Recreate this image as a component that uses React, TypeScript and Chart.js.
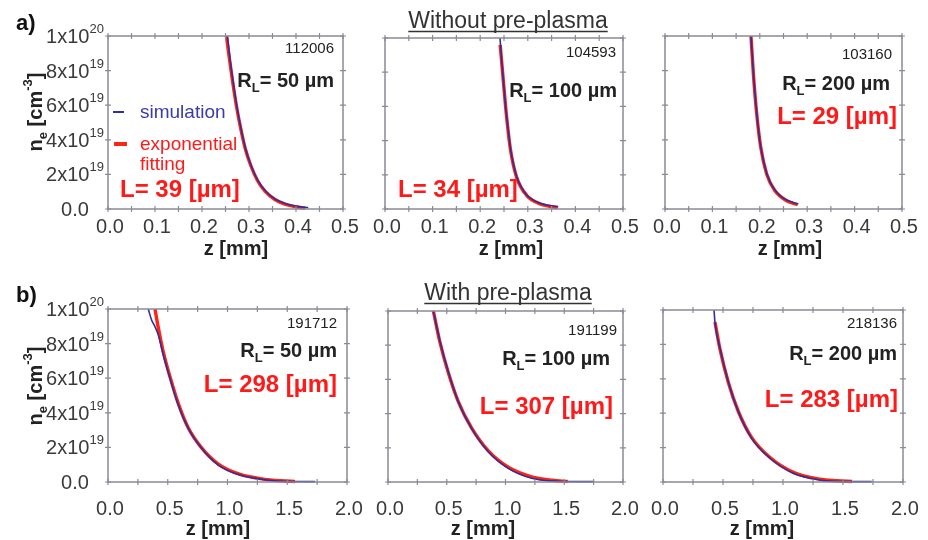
import React, { useEffect, useRef } from "react";
import { Chart, registerables } from "chart.js";
Chart.register(...registerables);

const W = 928;
const H = 540;
const FONT = '"Liberation Sans", Arial, Helvetica, sans-serif';
const BLUE = "#2f2f9c";
const RED = "#ff2414";
const TXT_RED = "#ff1a1a";
const TXT = "#222222";
const TICK_TXT = "#3a3a3a";
const AXIS = "#8a8a98";

// ---- data (z in mm, n_e in units of 1e19 cm^-3) ----
const a1SimZ = [0.254, 0.26, 0.267, 0.275, 0.284, 0.294, 0.306, 0.32, 0.337, 0.357, 0.38, 0.402, 0.426];
const a1SimN = [10.0, 8.6, 7.2, 5.8, 4.5, 3.35, 2.4, 1.6, 0.98, 0.55, 0.29, 0.15, 0.08];
const a1FitZ = [0.252, 0.258, 0.265, 0.273, 0.282, 0.292, 0.304, 0.318, 0.335, 0.355, 0.378, 0.4, 0.42];
const a1FitN = [10.0, 8.75, 7.4, 6.0, 4.7, 3.5, 2.5, 1.65, 1.0, 0.55, 0.27, 0.13, 0.05];

const a2SimZ = [0.2416, 0.245, 0.2486, 0.252, 0.2556, 0.26, 0.264, 0.27, 0.2766, 0.286, 0.2976, 0.31, 0.3256, 0.345, 0.364];
const a2SimN = [10.0, 8.7, 7.54, 6.4, 5.4, 4.35, 3.45, 2.6, 1.89, 1.3, 0.82, 0.55, 0.33, 0.2, 0.14];
const a2FitZ = [0.242, 0.2486, 0.2556, 0.264, 0.2766, 0.2976, 0.3256, 0.345, 0.363];
const a2FitN = [9.6, 7.5, 5.35, 3.4, 1.85, 0.8, 0.3, 0.16, 0.08];

const a3SimZ = [0.1814, 0.184, 0.1865, 0.19, 0.1935, 0.1975, 0.2019, 0.208, 0.2145, 0.223, 0.232, 0.244, 0.2567, 0.27, 0.2812];
const a3SimN = [10.0, 8.9, 7.84, 6.6, 5.53, 4.5, 3.6, 2.75, 2.06, 1.5, 1.1, 0.75, 0.52, 0.38, 0.29];
const a3FitZ = [0.1814, 0.1865, 0.1935, 0.2019, 0.2145, 0.232, 0.2567, 0.28];
const a3FitN = [10.0, 7.8, 5.5, 3.58, 2.03, 1.05, 0.48, 0.25];

const b1SimZ = [0.337, 0.365, 0.393, 0.421, 0.463, 0.519, 0.588, 0.672, 0.784, 0.923, 1.105, 1.328, 1.495, 1.732];
const b1SimN = [10.0, 9.36, 8.98, 8.5, 7.34, 5.99, 4.45, 3.1, 1.95, 0.98, 0.4, 0.12, 0.03, 0.02];
const b1FitZ = [0.393, 0.42, 0.46, 0.52, 0.59, 0.67, 0.78, 0.92, 1.1, 1.3, 1.45, 1.565];
const b1FitN = [10.0, 8.95, 7.6, 6.05, 4.5, 3.15, 2.0, 1.05, 0.45, 0.17, 0.07, 0.03];

const b2SimZ = [0.386, 0.443, 0.513, 0.598, 0.712, 0.854, 1.024, 1.223, 1.449, 1.6, 1.747];
const b2SimN = [10.0, 8.2, 6.45, 4.7, 3.14, 1.77, 0.8, 0.22, 0.04, 0.02, 0.02];
const b2FitZ = [0.386, 0.443, 0.513, 0.598, 0.712, 0.854, 1.024, 1.223, 1.4, 1.53];
const b2FitN = [10.0, 8.15, 6.4, 4.7, 3.15, 1.82, 0.86, 0.3, 0.1, 0.03];

const b3SimZ = [0.425, 0.433, 0.475, 0.544, 0.628, 0.739, 0.892, 1.086, 1.308, 1.558, 1.739];
const b3SimN = [10.0, 9.3, 7.77, 5.83, 4.09, 2.54, 1.38, 0.51, 0.12, 0.02, 0.02];
const b3FitZ = [0.433, 0.475, 0.544, 0.628, 0.739, 0.892, 1.086, 1.308, 1.45, 1.575];
const b3FitN = [9.3, 7.72, 5.8, 4.1, 2.58, 1.42, 0.56, 0.16, 0.07, 0.03];

const runIds = ["112006", "104593", "103160", "191712", "191199", "218136"];
const laserRadii = ["50", "100", "200", "50", "100", "200"];
const scaleLengths = ["39", "34", "29", "298", "307", "283"];

const yTickValues = [0, 2, 4, 6, 8, 10];
const yTickMain = ["0.0", "2x10", "4x10", "6x10", "8x10", "1x10"];
const yTickExp = ["", "19", "19", "19", "19", "20"];
const xTicksA = [0, 0.1, 0.2, 0.3, 0.4, 0.5];
const xTickLabelsA = ["0.0", "0.1", "0.2", "0.3", "0.4", "0.5"];
const xTicksB = [0, 0.5, 1.0, 1.5, 2.0];
const xTickLabelsB = ["0.0", "0.5", "1.0", "1.5", "2.0"];

type Seg = { t: string; size: number; bold?: boolean; dy?: number; color?: string };

function segW(ctx: CanvasRenderingContext2D, segs: Seg[]) {
  let w = 0;
  for (const s of segs) {
    ctx.font = `${s.bold ? "bold " : ""}${s.size}px ${FONT}`;
    w += ctx.measureText(s.t).width;
  }
  return w;
}

function drawSegs(ctx: CanvasRenderingContext2D, segs: Seg[], x: number, y: number, align: "left" | "center" | "right", color: string) {
  ctx.textBaseline = "alphabetic";
  ctx.textAlign = "left";
  const w = segW(ctx, segs);
  let cx = align === "left" ? x : align === "center" ? x - w / 2 : x - w;
  for (const s of segs) {
    ctx.font = `${s.bold ? "bold " : ""}${s.size}px ${FONT}`;
    ctx.fillStyle = s.color || color;
    ctx.fillText(s.t, cx, y + (s.dy || 0));
    cx += ctx.measureText(s.t).width;
  }
  return w;
}

type Panel = {
  area: [number, number, number, number];
  xMax: number;
  xTicks: number[];
  xTickLabels: string[];
  xMinor: number;
  simZ: number[]; simN: number[]; fitZ: number[]; fitN: number[];
  idx: number;
  showY: boolean;
  runPos: [number, number];
  rlPos: [number, number];
  lPos: [number, number, "left" | "right"];
  tickLabelY: number;
  titlePos: [number, number];
  yTitleY: number;
  legend?: boolean;
  header?: { label: string; title: string; titleX: number; baseY: number };
};

const panels: Panel[] = [
  { area: [108, 36, 343, 209], xMax: 0.5, xTicks: xTicksA, xTickLabels: xTickLabelsA, xMinor: 0.05,
    simZ: a1SimZ, simN: a1SimN, fitZ: a1FitZ, fitN: a1FitN, idx: 0, showY: true,
    runPos: [334, 53], rlPos: [334, 87], lPos: [120, 197, "left"], tickLabelY: 233, titlePos: [236, 255], yTitleY: 112, legend: true,
    header: { label: "a)", title: "Without pre-plasma", titleX: 508, baseY: 28 } },
  { area: [385, 38, 623, 209], xMax: 0.5, xTicks: xTicksA, xTickLabels: xTickLabelsA, xMinor: 0.05,
    simZ: a2SimZ, simN: a2SimN, fitZ: a2FitZ, fitN: a2FitN, idx: 1, showY: false,
    runPos: [616, 57], rlPos: [617, 97], lPos: [398, 197, "left"], tickLabelY: 233, titlePos: [511, 255], yTitleY: 0 },
  { area: [665, 36, 902, 209], xMax: 0.5, xTicks: xTicksA, xTickLabels: xTickLabelsA, xMinor: 0.05,
    simZ: a3SimZ, simN: a3SimN, fitZ: a3FitZ, fitN: a3FitN, idx: 2, showY: false,
    runPos: [892, 59], rlPos: [890, 90], lPos: [897, 124, "right"], tickLabelY: 233, titlePos: [790, 255], yTitleY: 0 },
  { area: [108, 309, 347, 482], xMax: 2.0, xTicks: xTicksB, xTickLabels: xTickLabelsB, xMinor: 0.25,
    simZ: b1SimZ, simN: b1SimN, fitZ: b1FitZ, fitN: b1FitN, idx: 3, showY: true,
    runPos: [337, 328], rlPos: [337, 357], lPos: [337, 392, "right"], tickLabelY: 515, titlePos: [218, 535], yTitleY: 386,
    header: { label: "b)", title: "With pre-plasma", titleX: 508, baseY: 300 } },
  { area: [388, 311, 623, 482], xMax: 2.0, xTicks: xTicksB, xTickLabels: xTickLabelsB, xMinor: 0.25,
    simZ: b2SimZ, simN: b2SimN, fitZ: b2FitZ, fitN: b2FitN, idx: 4, showY: false,
    runPos: [617, 335], rlPos: [610, 365], lPos: [613, 414, "right"], tickLabelY: 515, titlePos: [483, 535], yTitleY: 0 },
  { area: [663, 310, 903, 482], xMax: 2.0, xTicks: xTicksB, xTickLabels: xTickLabelsB, xMinor: 0.25,
    simZ: b3SimZ, simN: b3SimN, fitZ: b3FitZ, fitN: b3FitN, idx: 5, showY: false,
    runPos: [897, 328], rlPos: [897, 360], lPos: [898, 407, "right"], tickLabelY: 515, titlePos: [762, 535], yTitleY: 0 },
];

function panelPlugin(p: Panel) {
  return {
    id: "panelDeco" + p.idx,
    afterDraw(chart: any) {
      const ctx: CanvasRenderingContext2D = chart.ctx;
      const xs = chart.scales.x;
      const ys = chart.scales.y;
      const { left, top, right, bottom } = chart.chartArea;
      ctx.save();
      // frame
      ctx.strokeStyle = AXIS;
      ctx.lineWidth = 1.5;
      ctx.strokeRect(left, top, right - left, bottom - top);
      ctx.lineWidth = 1.2;
      // x ticks (top & bottom)
      for (let v = 0; v <= p.xMax + 1e-9; v += p.xMinor) {
        const px = xs.getPixelForValue(v);
        ctx.beginPath();
        ctx.moveTo(px, bottom - 3); ctx.lineTo(px, bottom + 3);
        ctx.moveTo(px, top - 3); ctx.lineTo(px, top + 3);
        ctx.stroke();
      }
      // y ticks (left & right)
      for (const v of yTickValues) {
        const py = ys.getPixelForValue(v);
        ctx.beginPath();
        ctx.moveTo(left - 3, py); ctx.lineTo(left + 3, py);
        ctx.moveTo(right - 3, py); ctx.lineTo(right + 3, py);
        ctx.stroke();
      }
      // x tick labels
      p.xTicks.forEach((v, i) => {
        drawSegs(ctx, [{ t: p.xTickLabels[i], size: 20 }], xs.getPixelForValue(v) + 2, p.tickLabelY, "center", TICK_TXT);
      });
      // x title
      drawSegs(ctx, [{ t: "z [mm]", size: 20, bold: true }], p.titlePos[0], p.titlePos[1], "center", TXT);
      // y tick labels & title
      if (p.showY) {
        yTickValues.forEach((v, i) => {
          const py = ys.getPixelForValue(v);
          const segs: Seg[] = [{ t: yTickMain[i], size: 20 }];
          if (yTickExp[i]) segs.push({ t: yTickExp[i], size: 13, dy: -10 });
          drawSegs(ctx, segs, 75, py + 7, "center", TICK_TXT);
        });
        ctx.save();
        ctx.translate(42, p.yTitleY);
        ctx.rotate(-Math.PI / 2);
        drawSegs(ctx, [
          { t: "n", size: 20, bold: true },
          { t: "e", size: 13, bold: true, dy: 5 },
          { t: " [cm", size: 20, bold: true },
          { t: "-3", size: 13, bold: true, dy: -10 },
          { t: "]", size: 20, bold: true },
        ], 0, 0, "center", TXT);
        ctx.restore();
      }
      // annotations
      drawSegs(ctx, [{ t: runIds[p.idx], size: 15 }], p.runPos[0], p.runPos[1], "right", TXT);
      drawSegs(ctx, [
        { t: "R", size: 20, bold: true },
        { t: "L", size: 13, bold: true, dy: 5 },
        { t: "= " + laserRadii[p.idx] + " \u00b5m", size: 20, bold: true },
      ], p.rlPos[0], p.rlPos[1], "right", TXT);
      drawSegs(ctx, [{ t: "L= " + scaleLengths[p.idx] + " [\u00b5m]", size: 24, bold: true }], p.lPos[0], p.lPos[1], p.lPos[2], TXT_RED);
      // legend
      if (p.legend) {
        ctx.strokeStyle = BLUE; ctx.lineWidth = 2;
        ctx.beginPath(); ctx.moveTo(113, 112); ctx.lineTo(124, 112); ctx.stroke();
        ctx.strokeStyle = RED; ctx.lineWidth = 4;
        ctx.beginPath(); ctx.moveTo(114, 144); ctx.lineTo(127, 144); ctx.stroke();
        drawSegs(ctx, [{ t: "simulation", size: 19 }], 140, 118, "left", "#3a3ab0");
        drawSegs(ctx, [{ t: "exponential", size: 19 }], 140, 150, "left", TXT_RED);
        drawSegs(ctx, [{ t: "fitting", size: 19 }], 140, 170, "left", TXT_RED);
      }
      // row header
      if (p.header) {
        drawSegs(ctx, [{ t: p.header.label, size: 22, bold: true }], 16, p.header.baseY + 2, "left", "#111");
        const w = drawSegs(ctx, [{ t: p.header.title, size: 23 }], p.header.titleX, p.header.baseY, "center", "#333");
        ctx.strokeStyle = "#333"; ctx.lineWidth = 1.5;
        ctx.beginPath();
        ctx.moveTo(p.header.titleX - w / 2, p.header.baseY + 3.5);
        ctx.lineTo(p.header.titleX + w / 2, p.header.baseY + 3.5);
        ctx.stroke();
      }
      ctx.restore();
    },
  };
}

export default function App() {
  const refs = useRef<(HTMLCanvasElement | null)[]>([]);
  useEffect(() => {
    const charts: Chart[] = [];
    panels.forEach((p, i) => {
      const cv = refs.current[i];
      if (!cv) return;
      const [l, t, r, b] = p.area;
      charts.push(new Chart(cv, {
        type: "line",
        data: {
          datasets: [
            { label: "simulation", data: p.simZ.map((z, k) => ({ x: z, y: p.simN[k] })), borderColor: BLUE, borderWidth: 1.6,
              pointRadius: 0, order: 0, cubicInterpolationMode: "monotone", clip: 6 } as any,
            { label: "exponential fitting", data: p.fitZ.map((z, k) => ({ x: z, y: p.fitN[k] })), borderColor: RED, borderWidth: 3.4,
              pointRadius: 0, order: 1, cubicInterpolationMode: "monotone", clip: 6 } as any,
          ],
        },
        options: {
          animation: false,
          responsive: false,
          events: [],
          layout: { padding: { left: l, top: t, right: W - r, bottom: H - b } },
          plugins: { legend: { display: false }, tooltip: { enabled: false } },
          scales: {
            x: { type: "linear", min: 0, max: p.xMax, display: false },
            y: { type: "linear", min: 0, max: 10, display: false },
          },
        },
        plugins: [panelPlugin(p)],
      }));
    });
    return () => charts.forEach((c) => c.destroy());
  }, []);
  return (
    <div style={{ position: "fixed", left: 0, top: 0, width: W, height: H, background: "#fff" }}>
      {panels.map((p, i) => (
        <canvas key={i} ref={(el) => { refs.current[i] = el; }} width={W} height={H}
          style={{ position: "absolute", left: 0, top: 0, width: W, height: H }} />
      ))}
    </div>
  );
}
